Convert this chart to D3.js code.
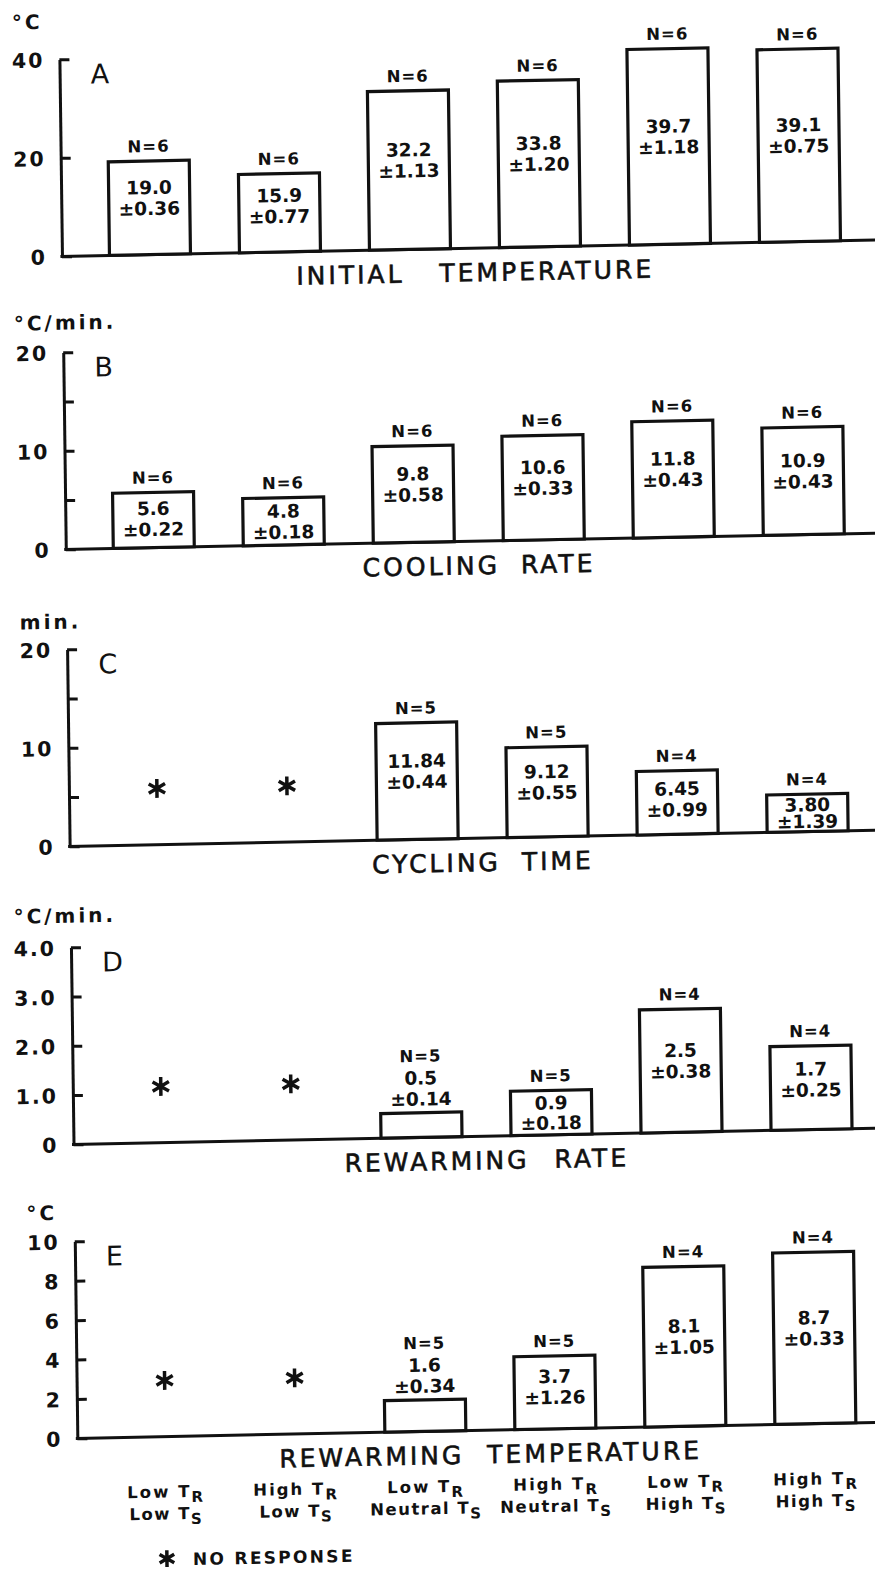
<!DOCTYPE html>
<html><head><meta charset="utf-8">
<script src="https://cdn.jsdelivr.net/npm/d3@7"></script>
<style>
body{margin:0;background:#fff;}
svg text{font-family:"DejaVu Sans",sans-serif;fill:#111;}
</style></head><body>
<svg id="chart" width="875" height="1579"></svg>
<script>
// ---------- DATA ----------
const trLevel = ["Low", "High", "Low", "High", "Low", "High"];       // T_R
const tsLevel = ["Low", "Low", "Neutral", "Neutral", "High", "High"]; // T_S
const categories = trLevel.map((t, i) => `${t} TR / ${tsLevel[i]} TS`);

const initialTempMean = [19.0, 15.9, 32.2, 33.8, 39.7, 39.1];
const initialTempSE   = [0.36, 0.77, 1.13, 1.20, 1.18, 0.75];
const initialTempN    = [6, 6, 6, 6, 6, 6];

const coolingRateMean = [5.6, 4.8, 9.8, 10.6, 11.8, 10.9];
const coolingRateSE   = [0.22, 0.18, 0.58, 0.33, 0.43, 0.43];
const coolingRateN    = [6, 6, 6, 6, 6, 6];

const cyclingTimeMean = [null, null, 11.84, 9.12, 6.45, 3.80];
const cyclingTimeSE   = [null, null, 0.44, 0.55, 0.99, 1.39];
const cyclingTimeN    = [null, null, 5, 5, 4, 4];

const rewarmRateMean = [null, null, 0.5, 0.9, 2.5, 1.7];
const rewarmRateSE   = [null, null, 0.14, 0.18, 0.38, 0.25];
const rewarmRateN    = [null, null, 5, 5, 4, 4];

const rewarmTempMean = [null, null, 1.6, 3.7, 8.1, 8.7];
const rewarmTempSE   = [null, null, 0.34, 1.26, 1.05, 0.33];
const rewarmTempN    = [null, null, 5, 5, 4, 4];

const ticksA = [0, 20, 40];            const tickLabelsA = ["0", "20", "40"];
const ticksB = [0, 5, 10, 15, 20];     const tickLabelsB = ["0", "", "10", "", "20"];
const ticksC = [0, 5, 10, 15, 20];     const tickLabelsC = ["0", "", "10", "", "20"];
const ticksD = [0, 1, 2, 3, 4];        const tickLabelsD = ["0", "1.0", "2.0", "3.0", "4.0"];
const ticksE = [0, 2, 4, 6, 8, 10];    const tickLabelsE = ["0", "2", "4", "6", "8", "10"];

const panelLetters = ["A", "B", "C", "D", "E"];
const panelUnits   = ["°C", "°C/min.", "min.", "°C/min.", "°C"];
const panelTitles  = ["INITIAL TEMPERATURE", "COOLING RATE", "CYCLING TIME", "REWARMING RATE", "REWARMING TEMPERATURE"];
const noResponseLabel = "NO RESPONSE";

// ---------- LAYOUT ----------
const panels = [
  {mean: initialTempMean, se: initialTempSE, n: initialTempN, ticks: ticksA, labels: tickLabelsA, dec: 1},
  {mean: coolingRateMean, se: coolingRateSE, n: coolingRateN, ticks: ticksB, labels: tickLabelsB, dec: 1},
  {mean: cyclingTimeMean, se: cyclingTimeSE, n: cyclingTimeN, ticks: ticksC, labels: tickLabelsC, dec: 2},
  {mean: rewarmRateMean,  se: rewarmRateSE,  n: rewarmRateN,  ticks: ticksD, labels: tickLabelsD, dec: 1},
  {mean: rewarmTempMean,  se: rewarmTempSE,  n: rewarmTempN,  ticks: ticksE, labels: tickLabelsE, dec: 1}
];
const tops = [52, 345, 642, 940, 1234];
const H = 197;
const axisX = 69;
const unitX = [22, 20, 22, 12, 21];
const unitGap = [38, 30, 28, 32, 29];
const titleWordSpacing = [24, 10, 10, 14, 12];

const svg = d3.select("#chart");
svg.append("rect").attr("width", 875).attr("height", 1579).attr("fill", "#fff");
// slight skew/rotation of the scanned original
const root = svg.append("g")
  .attr("transform", "translate(437,790) matrix(1,-0.02,0.013,1,0,0) translate(-437,-790)");

const x = d3.scaleBand().domain(categories).range([92, 872]).paddingInner(0.377).paddingOuter(0.1885);
const bw = x.bandwidth();
const ink = "#111";
const asterisk = d3.symbol(d3.symbolAsterisk, 250);

panels.forEach((p, pi) => {
  const top = tops[pi];
  const y = d3.scaleLinear().domain([0, d3.max(p.ticks)]).range([top + H, top]);
  const y0 = y(0);
  const g = root.append("g");

  // axis
  const axis = d3.axisLeft(y).tickValues(p.ticks).tickFormat((d, i) => p.labels[i])
    .tickSizeInner(-10).tickSizeOuter(0).tickPadding(15);
  const ag = g.append("g").attr("transform", `translate(${axisX},0)`).call(axis);
  ag.select(".domain").attr("stroke", ink).attr("stroke-width", 3);
  ag.selectAll(".tick line").attr("stroke", ink).attr("stroke-width", 3);
  ag.selectAll(".tick text").attr("fill", ink).attr("font-size", 20.5).attr("font-weight", "bold")
    .attr("letter-spacing", 2).attr("font-family", '"DejaVu Sans",sans-serif').attr("dy", "0.36em");

  // baseline
  g.append("line").attr("x1", axisX - 1.5).attr("x2", 890).attr("y1", y0).attr("y2", y0)
    .attr("stroke", ink).attr("stroke-width", 3);

  // unit label, panel letter, title
  g.append("text").attr("x", unitX[pi]).attr("y", top - unitGap[pi] + 7.3)
    .attr("font-size", 20).attr("font-weight", "bold").attr("letter-spacing", 3).text(panelUnits[pi]);
  g.append("text").attr("x", 100).attr("y", top + 15 + 9.8)
    .attr("font-size", 27).text(panelLetters[pi]);
  g.append("text").attr("x", 482).attr("y", y0 + 24 + 9.1).attr("text-anchor", "middle")
    .attr("font-size", 25).attr("letter-spacing", 3).attr("word-spacing", titleWordSpacing[pi])
    .attr("stroke", ink).attr("stroke-width", 0.6)
    .text(panelTitles[pi]);

  // bars / no response marks
  categories.forEach((c, i) => {
    const v = p.mean[i];
    const cx = x(c) + bw / 2;
    if (v == null) {
      g.append("path").attr("d", asterisk).attr("transform", `translate(${cx},${y0 - 0.285 * H})`)
        .attr("fill", "none").attr("stroke", ink).attr("stroke-width", 3.5);
      return;
    }
    const yt = y(v);
    const h = y0 - yt;
    g.append("rect").attr("x", x(c)).attr("y", yt).attr("width", bw).attr("height", h)
      .attr("fill", "#fff").attr("stroke", ink).attr("stroke-width", 3.2);
    const valTxt = v.toFixed(p.dec);
    const seTxt = "±" + p.se[i].toFixed(2);
    const nTxt = "N=" + p.n[i];
    const vfs = 18.5, vcap = vfs * 0.729 / 2;
    if (h < 35) {
      g.append("text").attr("x", cx).attr("y", yt - 14 + vcap).attr("text-anchor", "middle")
        .attr("font-size", vfs).attr("font-weight", "bold").text(seTxt);
      g.append("text").attr("x", cx).attr("y", yt - 35 + vcap).attr("text-anchor", "middle")
        .attr("font-size", vfs).attr("font-weight", "bold").text(valTxt);
      g.append("text").attr("x", cx).attr("y", yt - 57 + 6).attr("text-anchor", "middle")
        .attr("font-size", 16.5).attr("font-weight", "bold").attr("letter-spacing", 1).text(nTxt);
    } else {
      const mid = (yt + y0) / 2;
      const off = 10 * Math.max(0, Math.min(1, (h - 50) / 40));
      const cy = mid - off;
      const sp = Math.min(21, (h - 4) / 2);
      g.append("text").attr("x", cx).attr("y", cy - sp / 2 + vcap).attr("text-anchor", "middle")
        .attr("font-size", vfs).attr("font-weight", "bold").text(valTxt);
      g.append("text").attr("x", cx).attr("y", cy + sp / 2 + vcap).attr("text-anchor", "middle")
        .attr("font-size", vfs).attr("font-weight", "bold").text(seTxt);
      g.append("text").attr("x", cx).attr("y", yt - 15 + 6).attr("text-anchor", "middle")
        .attr("font-size", 16.5).attr("font-weight", "bold").attr("letter-spacing", 1).text(nTxt);
    }
  });
});

// category labels
categories.forEach((c, i) => {
  const cx = x(c) + bw / 2;
  const t1 = root.append("text").attr("x", cx).attr("y", 1492).attr("text-anchor", "middle")
    .attr("font-size", 16.5).attr("font-weight", "bold").attr("letter-spacing", 2);
  t1.append("tspan").text(trLevel[i] + " T");
  t1.append("tspan").attr("font-size", 15).attr("dy", 5).text("R");
  const t2 = root.append("text").attr("x", cx).attr("y", 1514).attr("text-anchor", "middle")
    .attr("font-size", 16.5).attr("font-weight", "bold").attr("letter-spacing", 1.5);
  t2.append("tspan").text(tsLevel[i] + " T");
  t2.append("tspan").attr("font-size", 15).attr("dy", 5).text("S");
});

// legend
root.append("path").attr("d", d3.symbol(d3.symbolAsterisk, 200))
  .attr("transform", `translate(${x(categories[0]) + bw / 2},1553)`)
  .attr("fill", "none").attr("stroke", ink).attr("stroke-width", 3.5);
root.append("text").attr("x", 183).attr("y", 1560).attr("font-size", 17).attr("font-weight", "bold")
  .attr("letter-spacing", 2.3).text(noResponseLabel);
</script>
</body></html>
